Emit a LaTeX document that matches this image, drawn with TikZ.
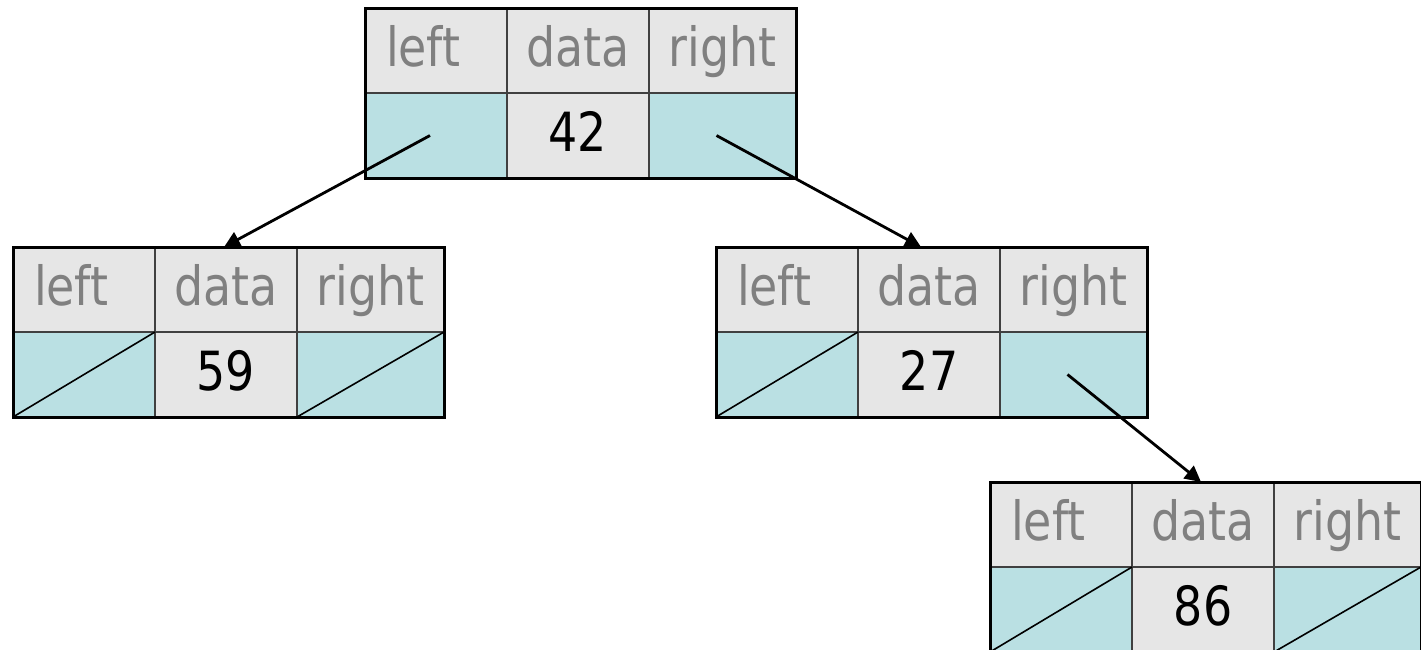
\documentclass[tikz,border=0pt]{standalone}
\usepackage{fontspec}
\newfontfamily\cellfont[FakeStretch=0.85]{DejaVu Sans}
\usetikzlibrary{arrows.meta}
\definecolor{cellgray}{HTML}{E6E6E6}
\definecolor{cellteal}{HTML}{BAE0E3}
\definecolor{labelgray}{HTML}{808080}
\definecolor{gridline}{HTML}{404040}
\tikzset{
  cell/.style={draw=gridline, line width=1.5pt, inner sep=0pt, outer sep=0pt,
    minimum height=85pt, text height=38pt, text depth=6pt, anchor=north west,
    font=\cellfont\fontsize{54}{64}\selectfont},
  hdr/.style={cell, fill=cellgray, text=labelgray},
  ptr/.style={cell, fill=cellteal},
  val/.style={cell, fill=cellgray, text=black},
  outerbox/.style={draw=black, line width=3pt},
  nullline/.style={draw=black, line width=1.6pt},
  link/.style={draw=black, line width=2.8pt, -{Triangle[length=16pt,width=16pt]}},
}
\newcommand{\listnode}[4]{%
  \node[hdr, minimum width=142pt] (#1-lh) at (#2,#3) {\makebox[100pt][l]{left}};
  \node[hdr, minimum width=142pt] (#1-dh) at (#1-lh.north east) {data};
  \node[hdr, minimum width=147pt] (#1-rh) at (#1-dh.north east) {right};
  \node[ptr, minimum width=142pt] (#1-l) at (#1-lh.south west) {};
  \node[val, minimum width=142pt] (#1-d) at (#1-dh.south west) {#4};
  \node[ptr, minimum width=147pt] (#1-r) at (#1-rh.south west) {};
  \draw[outerbox] (#1-lh.north west) rectangle (#1-r.south east);
}
\begin{document}
\begin{tikzpicture}[x=1pt,y=-1pt]
\useasboundingbox (0,0) rectangle (1421,649);
\listnode{top}{365}{8}{42}
\listnode{L}{13}{247}{59}
\listnode{R}{716}{247}{27}
\listnode{B}{990}{482}{86}
\draw[nullline] (L-l.south west) -- (L-l.north east);
\draw[nullline] (L-r.south west) -- (L-r.north east);
\draw[nullline] (R-l.south west) -- (R-l.north east);
\draw[nullline] (B-l.south west) -- (B-l.north east);
\draw[nullline] (B-r.south west) -- (B-r.north east);
\draw[link] ([xshift=-6pt]top-l.center) -- ([xshift=-2pt]L-dh.north);
\draw[link] ([xshift=-6pt]top-r.center) -- ([xshift=-8pt]R-dh.north);
\draw[link] ([xshift=-6pt]R-r.center) -- ([xshift=-2pt]B-dh.north);
\end{tikzpicture}
\end{document}
